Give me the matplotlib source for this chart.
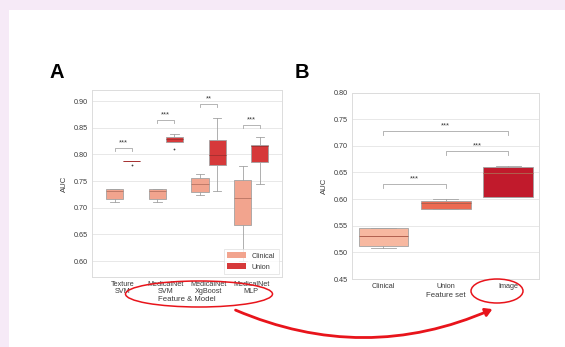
import matplotlib
matplotlib.use("Agg")
import matplotlib.pyplot as plt
from matplotlib.patches import Ellipse, FancyArrowPatch, Patch, Rectangle

plt.rcParams['font.family'] = ['Liberation Sans', 'DejaVu Sans']

# Panel A: AUC per feature/model, Clinical vs Union
models = ["Texture\nSVM", "MedicalNet\nSVM", "MedicalNet\nXgBoost", "MedicalNet\nMLP"]
clin_lo = [0.710, 0.710, 0.724, 0.600]
clin_q1 = [0.716, 0.716, 0.730, 0.668]
clin_med = [0.732, 0.732, 0.744, 0.718]
clin_q3 = [0.736, 0.736, 0.755, 0.752]
clin_hi = [0.736, 0.736, 0.764, 0.778]
union_lo = [0.788, 0.824, 0.731, 0.744]
union_q1 = [0.788, 0.824, 0.781, 0.785]
union_med = [0.788, 0.829, 0.799, 0.816]
union_q3 = [0.788, 0.833, 0.828, 0.817]
union_hi = [0.788, 0.839, 0.869, 0.832]
union_fliers = [[0.780], [0.811], [], []]
sig_a = ["***", "***", "**", "***"]
sig_a_y = [0.807, 0.859, 0.889, 0.850]

# Panel B: AUC per feature set
feature_sets = ["Clinical", "Union", "Image"]
set_lo = [0.508, 0.582, 0.603]
set_q1 = [0.511, 0.582, 0.603]
set_med = [0.531, 0.593, 0.649]
set_q3 = [0.546, 0.596, 0.661]
set_hi = [0.546, 0.600, 0.662]
sig_b_pairs = [(0, 1), (1, 2), (0, 2)]
sig_b_labels = ["***", "***", "***"]
sig_b_y = [0.620, 0.683, 0.721]

W, H = 565, 347
fig = plt.figure(figsize=(W / 100, H / 100), dpi=100)
fig.patch.set_facecolor("#f6eaf7")
fig.patches.append(Rectangle((9 / W, 0), 1, 1 - 10 / H, transform=fig.transFigure,
                             facecolor="white", edgecolor="none", zorder=-5))

grid_c = "#e8e8e8"
line_c = "#a2a2a2"
txt_c = "#3a3a3a"
fs = 5.2


def style_axes(ax):
    ax.set_facecolor("white")
    for s in ax.spines.values():
        s.set_color("#dcdcdc")
        s.set_linewidth(0.7)
    ax.grid(axis="y", color=grid_c, linewidth=0.7)
    ax.set_axisbelow(True)
    ax.tick_params(length=0, labelsize=fs, colors=txt_c, pad=3)


def stats(lo, q1, med, q3, hi, fl=None):
    out = []
    for i in range(len(lo)):
        out.append(dict(whislo=lo[i], q1=q1[i], med=med[i], q3=q3[i], whishi=hi[i],
                        fliers=(fl[i] if fl else [])))
    return out


def draw_boxes(ax, st, pos, colors, width, medc):
    b = ax.bxp(st, positions=pos, widths=width, patch_artist=True, showfliers=True,
               boxprops=dict(edgecolor=line_c, linewidth=0.6),
               whiskerprops=dict(color=line_c, linewidth=0.6),
               capprops=dict(color=line_c, linewidth=0.6),
               medianprops=dict(color=medc, linewidth=0.7),
               flierprops=dict(marker="o", markersize=1.3, markerfacecolor="#444",
                               markeredgecolor="none"),
               capwidths=width * 0.5)
    for p, c in zip(b["boxes"], colors):
        p.set_facecolor(c)
    return b


def bracket(ax, x1, x2, y, h, label, gap):
    ax.plot([x1, x1, x2, x2], [y, y + h, y + h, y], color="#a8a8a8", lw=0.6)
    ax.text((x1 + x2) / 2, y + h + gap, label, ha="center", va="bottom",
            fontsize=5.4, color=txt_c)


clin_color = "#f2a48e"
union_color = "#d6393a"

# ---- panel A
axA = fig.add_axes([92.3 / W, 1 - 277.3 / H, 189.4 / W, 187.3 / H])
style_axes(axA)
xs = list(range(len(models)))
draw_boxes(axA, stats(clin_lo, clin_q1, clin_med, clin_q3, clin_hi),
           [x - 0.2 for x in xs], [clin_color] * 4, 0.4, "#c07a68")
draw_boxes(axA, stats(union_lo, union_q1, union_med, union_q3, union_hi, union_fliers),
           [x + 0.2 for x in xs], [union_color] * 4, 0.4, "#a83030")
for x, lab, y in zip(xs, sig_a, sig_a_y):
    bracket(axA, x - 0.2, x + 0.2, y, 0.006, lab, 0.002)
axA.set_xlim(-0.72, 3.71)
axA.set_ylim(0.5695, 0.921)
axA.set_yticks([0.60, 0.65, 0.70, 0.75, 0.80, 0.85, 0.90])
axA.set_xticks(xs)
axA.set_xticklabels(models, linespacing=0.95)
axA.set_ylabel("AUC", fontsize=5.6, color=txt_c, labelpad=4)
axA.set_xlabel("Feature & Model", fontsize=5.6, color=txt_c, labelpad=0.5)
leg = axA.legend(handles=[Patch(facecolor=clin_color, label="Clinical"),
                          Patch(facecolor=union_color, label="Union")],
                 loc="lower right", fontsize=5.2, frameon=True, handlelength=2.6,
                 handleheight=0.9, borderpad=0.5, labelspacing=0.5, fancybox=False,
                 borderaxespad=0.4)
leg.get_frame().set_edgecolor("#dddddd")
leg.get_frame().set_linewidth(0.6)
for t in leg.get_texts():
    t.set_color(txt_c)

# ---- panel B
axB = fig.add_axes([352.3 / W, 1 - 279 / H, 187 / W, 186.5 / H])
style_axes(axB)
xb = list(range(len(feature_sets)))
draw_boxes(axB, stats(set_lo, set_q1, set_med, set_q3, set_hi), xb,
           ["#f7b8a0", "#ec6a52", "#c11a2c"], 0.8, "#b0604e")
for (i, j), lab, y in zip(sig_b_pairs, sig_b_labels, sig_b_y):
    bracket(axB, i, j, y, 0.0075, lab, 0.003)
axB.set_xlim(-0.5, 2.5)
axB.set_ylim(0.45, 0.80)
axB.set_yticks([0.45, 0.50, 0.55, 0.60, 0.65, 0.70, 0.75, 0.80])
axB.set_xticks(xb)
axB.set_xticklabels(feature_sets)
axB.set_ylabel("AUC", fontsize=5.6, color=txt_c, labelpad=4)
axB.set_xlabel("Feature set", fontsize=5.6, color=txt_c, labelpad=1)

# panel letters
fig.text(57 / W, 1 - 73 / H, "A", fontsize=14.5, fontweight="bold", ha="center", va="center")
fig.text(302 / W, 1 - 73 / H, "B", fontsize=14.5, fontweight="bold", ha="center", va="center")

# red highlight ellipses and connecting arrow
fig.patches.append(Ellipse((199 / W, 1 - 294 / H), 147 / W, 26 / H, transform=fig.transFigure,
                           fill=False, edgecolor="#e8141b", linewidth=1.1, zorder=5))
fig.patches.append(Ellipse((497 / W, 1 - 291 / H), 52 / W, 24 / H, transform=fig.transFigure,
                           fill=False, edgecolor="#e8141b", linewidth=1.1, zorder=5))
fig.patches.append(FancyArrowPatch((233 / W, 1 - 309 / H), (495 / W, 1 - 308 / H),
                                   transform=fig.transFigure,
                                   connectionstyle="arc3,rad=0.22",
                                   arrowstyle="-|>,head_length=4,head_width=2.4",
                                   color="#e8141b", linewidth=2.0, zorder=5))

fig.savefig("out.png", dpi=100, facecolor=fig.get_facecolor())
